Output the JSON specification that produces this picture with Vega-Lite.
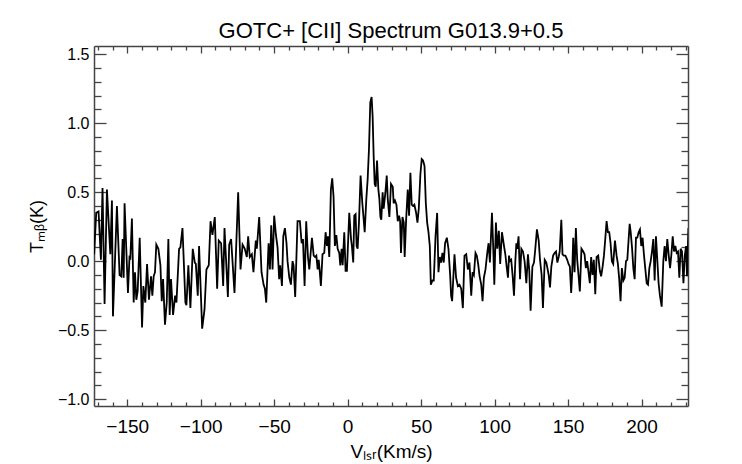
{
  "$schema": "https://vega.github.io/schema/vega-lite/v6.json",
  "width": 594,
  "height": 360,
  "autosize": {"type": "none"},
  "padding": {"left": 94, "top": 46, "right": 54, "bottom": 58},
  "title": {"text": "GOTC+ [CII] Spectrum G013.9+0.5", "fontSize": 22, "fontWeight": "normal", "font": "Liberation Sans", "color": "#000", "baseline": "alphabetic", "offset": 8, "dy": 23},
  "data": {
    "values": [
      {"v": -172.5, "t": 0.05}, {"v": -171.1, "t": 0.35}, {"v": -169.5, "t": 0.36}, {"v": -167.9, "t": 0.01},
      {"v": -166.8, "t": 0.53}, {"v": -165.4, "t": -0.31}, {"v": -163.8, "t": 0.52}, {"v": -161.5, "t": 0.05},
      {"v": -160.4, "t": 0.44}, {"v": -159.7, "t": -0.40}, {"v": -157.0, "t": 0.40}, {"v": -155.2, "t": -0.10},
      {"v": -154.0, "t": -0.11}, {"v": -153.1, "t": 0.16}, {"v": -152.4, "t": -0.12}, {"v": -151.8, "t": 0.42},
      {"v": -149.5, "t": -0.23}, {"v": -148.4, "t": 0.04}, {"v": -147.9, "t": 0.01}, {"v": -146.8, "t": 0.31},
      {"v": -145.6, "t": -0.30}, {"v": -144.7, "t": -0.08}, {"v": -143.8, "t": -0.28}, {"v": -142.9, "t": -0.22},
      {"v": -141.5, "t": 0.17}, {"v": -139.9, "t": -0.48}, {"v": -139.0, "t": -0.18}, {"v": -137.7, "t": -0.30},
      {"v": -136.5, "t": -0.02}, {"v": -135.2, "t": -0.28}, {"v": -133.8, "t": -0.11}, {"v": -132.9, "t": -0.25},
      {"v": -132.0, "t": -0.11}, {"v": -131.1, "t": -0.08}, {"v": -130.2, "t": 0.12}, {"v": -128.8, "t": 0.09},
      {"v": -127.4, "t": -0.03}, {"v": -126.5, "t": -0.29}, {"v": -125.6, "t": -0.13}, {"v": -124.3, "t": -0.46},
      {"v": -123.1, "t": -0.30}, {"v": -122.0, "t": 0.16}, {"v": -121.1, "t": -0.39}, {"v": -120.2, "t": -0.13},
      {"v": -118.8, "t": -0.39}, {"v": -117.4, "t": -0.25}, {"v": -116.5, "t": -0.30}, {"v": -114.7, "t": 0.09},
      {"v": -113.8, "t": 0.10}, {"v": -112.4, "t": 0.24}, {"v": -110.4, "t": -0.30}, {"v": -109.7, "t": -0.32},
      {"v": -108.4, "t": -0.03}, {"v": -107.0, "t": -0.34}, {"v": -105.4, "t": 0.09}, {"v": -104.0, "t": -0.01},
      {"v": -103.3, "t": -0.02}, {"v": -102.0, "t": -0.25}, {"v": -101.1, "t": 0.11}, {"v": -99.0, "t": -0.49},
      {"v": -97.4, "t": -0.35}, {"v": -96.1, "t": -0.06}, {"v": -94.5, "t": -0.03}, {"v": -93.3, "t": 0.29},
      {"v": -92.0, "t": 0.19}, {"v": -90.4, "t": 0.32}, {"v": -88.8, "t": -0.20}, {"v": -87.7, "t": 0.15},
      {"v": -86.1, "t": 0.13}, {"v": -84.7, "t": -0.18}, {"v": -83.8, "t": 0.24}, {"v": -81.5, "t": -0.26},
      {"v": -80.6, "t": 0.12}, {"v": -79.3, "t": 0.16}, {"v": -77.0, "t": -0.23}, {"v": -74.5, "t": 0.50},
      {"v": -72.9, "t": -0.06}, {"v": -71.5, "t": 0.12}, {"v": -70.0, "t": 0.09}, {"v": -68.6, "t": 0.03},
      {"v": -67.7, "t": 0.18}, {"v": -66.6, "t": 0.03}, {"v": -65.2, "t": 0.05}, {"v": -64.1, "t": -0.08},
      {"v": -62.5, "t": 0.15}, {"v": -61.8, "t": 0.09}, {"v": -60.2, "t": 0.32}, {"v": -58.6, "t": -0.08},
      {"v": -57.2, "t": -0.17}, {"v": -56.3, "t": -0.20}, {"v": -55.4, "t": -0.30}, {"v": -53.8, "t": 0.13},
      {"v": -52.9, "t": -0.06}, {"v": -52.0, "t": 0.26}, {"v": -51.1, "t": -0.06}, {"v": -50.0, "t": 0.33},
      {"v": -48.8, "t": 0.19}, {"v": -47.7, "t": 0.10}, {"v": -46.6, "t": -0.13}, {"v": -45.9, "t": -0.03},
      {"v": -44.7, "t": -0.18}, {"v": -43.8, "t": 0.18}, {"v": -42.7, "t": 0.24}, {"v": -41.6, "t": 0.13},
      {"v": -40.9, "t": 0.00}, {"v": -39.7, "t": -0.12}, {"v": -38.6, "t": -0.17}, {"v": -37.5, "t": 0.00},
      {"v": -36.8, "t": -0.03}, {"v": -35.7, "t": -0.26}, {"v": -34.1, "t": 0.29}, {"v": -32.5, "t": 0.29},
      {"v": -31.3, "t": 0.13}, {"v": -30.4, "t": 0.16}, {"v": -29.3, "t": -0.18}, {"v": -28.2, "t": 0.29},
      {"v": -27.0, "t": 0.03}, {"v": -26.1, "t": -0.06}, {"v": -24.3, "t": 0.17}, {"v": -23.1, "t": 0.04},
      {"v": -22.2, "t": 0.03}, {"v": -21.3, "t": 0.04}, {"v": -20.4, "t": -0.06}, {"v": -19.7, "t": 0.01},
      {"v": -19.1, "t": -0.06}, {"v": -18.2, "t": -0.18}, {"v": -17.1, "t": 0.05}, {"v": -15.9, "t": 0.06},
      {"v": -15.0, "t": 0.21}, {"v": -14.1, "t": 0.11}, {"v": -13.4, "t": 0.18}, {"v": -12.5, "t": 0.03},
      {"v": -11.4, "t": 0.52}, {"v": -10.5, "t": 0.60}, {"v": -9.6, "t": 0.47}, {"v": -8.7, "t": 0.11},
      {"v": -7.7, "t": 0.19}, {"v": -6.8, "t": 0.09}, {"v": -5.7, "t": 0.06}, {"v": -5.0, "t": -0.03},
      {"v": -4.1, "t": 0.09}, {"v": -3.4, "t": -0.03}, {"v": -2.3, "t": 0.21}, {"v": -1.4, "t": -0.07},
      {"v": -0.5, "t": -0.07}, {"v": 1.1, "t": 0.35}, {"v": 2.3, "t": 0.16}, {"v": 2.9, "t": 0.11},
      {"v": 3.8, "t": -0.01}, {"v": 4.5, "t": 0.33}, {"v": 5.4, "t": 0.34}, {"v": 6.1, "t": 0.11},
      {"v": 6.8, "t": 0.09}, {"v": 7.7, "t": 0.28}, {"v": 8.8, "t": 0.62}, {"v": 10.0, "t": 0.42},
      {"v": 10.7, "t": 0.33}, {"v": 11.6, "t": 0.21}, {"v": 12.7, "t": 0.45}, {"v": 13.6, "t": 0.59},
      {"v": 14.5, "t": 0.81}, {"v": 15.4, "t": 1.15}, {"v": 16.3, "t": 1.19}, {"v": 17.0, "t": 1.05},
      {"v": 17.7, "t": 0.76}, {"v": 18.4, "t": 0.56}, {"v": 19.1, "t": 0.54}, {"v": 20.0, "t": 0.73},
      {"v": 20.9, "t": 0.52}, {"v": 21.6, "t": 0.45}, {"v": 22.3, "t": 0.32}, {"v": 22.9, "t": 0.30},
      {"v": 23.8, "t": 0.50}, {"v": 24.5, "t": 0.38}, {"v": 25.7, "t": 0.50}, {"v": 26.6, "t": 0.62},
      {"v": 27.3, "t": 0.45}, {"v": 28.4, "t": 0.32}, {"v": 29.5, "t": 0.56}, {"v": 30.7, "t": 0.54},
      {"v": 31.3, "t": 0.42}, {"v": 32.2, "t": 0.44}, {"v": 33.2, "t": 0.41}, {"v": 34.1, "t": 0.29},
      {"v": 35.0, "t": 0.33}, {"v": 35.7, "t": 0.29}, {"v": 36.3, "t": 0.06}, {"v": 37.3, "t": 0.32},
      {"v": 38.2, "t": 0.28}, {"v": 38.8, "t": 0.03}, {"v": 39.8, "t": 0.30}, {"v": 40.9, "t": 0.52},
      {"v": 41.8, "t": 0.33}, {"v": 42.7, "t": 0.64}, {"v": 43.6, "t": 0.41}, {"v": 44.5, "t": 0.40},
      {"v": 45.4, "t": 0.41}, {"v": 46.6, "t": 0.35}, {"v": 47.5, "t": 0.28}, {"v": 48.4, "t": 0.38},
      {"v": 49.5, "t": 0.63}, {"v": 50.4, "t": 0.74}, {"v": 51.3, "t": 0.73}, {"v": 52.3, "t": 0.69},
      {"v": 53.2, "t": 0.42}, {"v": 54.1, "t": 0.28}, {"v": 55.0, "t": 0.21}, {"v": 55.9, "t": 0.11},
      {"v": 56.6, "t": -0.17}, {"v": 57.7, "t": -0.14}, {"v": 58.6, "t": -0.14}, {"v": 59.8, "t": 0.18},
      {"v": 60.9, "t": 0.35}, {"v": 61.8, "t": -0.08}, {"v": 62.7, "t": 0.03}, {"v": 63.6, "t": -0.01},
      {"v": 64.5, "t": 0.06}, {"v": 65.4, "t": -0.01}, {"v": 66.3, "t": 0.13}, {"v": 67.5, "t": 0.17},
      {"v": 68.6, "t": 0.09}, {"v": 69.8, "t": -0.11}, {"v": 70.4, "t": -0.25}, {"v": 71.1, "t": -0.29},
      {"v": 72.7, "t": 0.05}, {"v": 73.8, "t": -0.12}, {"v": 75.0, "t": -0.18}, {"v": 76.1, "t": -0.17},
      {"v": 77.3, "t": -0.20}, {"v": 78.4, "t": -0.34}, {"v": 79.5, "t": 0.04}, {"v": 80.7, "t": 0.05},
      {"v": 81.8, "t": -0.06}, {"v": 82.9, "t": -0.01}, {"v": 84.1, "t": -0.25}, {"v": 85.0, "t": -0.08},
      {"v": 85.9, "t": -0.10}, {"v": 87.0, "t": 0.06}, {"v": 87.9, "t": 0.04}, {"v": 88.8, "t": -0.02},
      {"v": 89.8, "t": -0.11}, {"v": 90.9, "t": -0.17}, {"v": 91.8, "t": -0.29}, {"v": 92.7, "t": -0.12},
      {"v": 93.8, "t": -0.06}, {"v": 95.0, "t": 0.06}, {"v": 95.9, "t": 0.13}, {"v": 96.8, "t": -0.01},
      {"v": 98.2, "t": 0.35}, {"v": 99.1, "t": 0.09}, {"v": 99.8, "t": -0.17}, {"v": 100.9, "t": 0.28},
      {"v": 101.8, "t": 0.09}, {"v": 102.9, "t": 0.22}, {"v": 103.8, "t": -0.02}, {"v": 105.0, "t": 0.21},
      {"v": 106.4, "t": 0.11}, {"v": 107.3, "t": 0.05}, {"v": 108.2, "t": -0.04}, {"v": 109.1, "t": -0.12},
      {"v": 109.8, "t": 0.04}, {"v": 110.4, "t": 0.00}, {"v": 111.3, "t": 0.01}, {"v": 112.3, "t": -0.11},
      {"v": 113.2, "t": -0.25}, {"v": 114.1, "t": 0.00}, {"v": 114.8, "t": 0.13}, {"v": 115.4, "t": 0.09},
      {"v": 116.3, "t": 0.18}, {"v": 117.3, "t": -0.13}, {"v": 118.2, "t": 0.09}, {"v": 119.3, "t": 0.07},
      {"v": 120.4, "t": 0.00}, {"v": 121.6, "t": -0.16}, {"v": 122.7, "t": 0.05}, {"v": 123.6, "t": -0.07},
      {"v": 124.5, "t": -0.36}, {"v": 125.7, "t": -0.04}, {"v": 126.8, "t": -0.01}, {"v": 127.7, "t": 0.09},
      {"v": 128.8, "t": 0.23}, {"v": 130.0, "t": 0.15}, {"v": 130.9, "t": 0.01}, {"v": 132.0, "t": -0.10},
      {"v": 132.9, "t": -0.34}, {"v": 134.1, "t": 0.01}, {"v": 135.2, "t": -0.01}, {"v": 136.1, "t": -0.06},
      {"v": 136.8, "t": -0.10}, {"v": 137.7, "t": -0.19}, {"v": 138.6, "t": -0.04}, {"v": 139.8, "t": 0.04},
      {"v": 140.9, "t": 0.06}, {"v": 141.8, "t": 0.07}, {"v": 142.7, "t": -0.01}, {"v": 143.6, "t": 0.03},
      {"v": 144.3, "t": 0.07}, {"v": 145.4, "t": 0.30}, {"v": 146.2, "t": 0.05}, {"v": 147.1, "t": 0.04},
      {"v": 148.2, "t": 0.04}, {"v": 149.4, "t": 0.01}, {"v": 150.3, "t": -0.02}, {"v": 151.2, "t": -0.04},
      {"v": 152.1, "t": -0.23}, {"v": 152.8, "t": -0.08}, {"v": 153.5, "t": 0.17}, {"v": 154.4, "t": -0.08},
      {"v": 155.3, "t": 0.24}, {"v": 156.2, "t": 0.01}, {"v": 157.1, "t": -0.10}, {"v": 158.0, "t": -0.22},
      {"v": 159.1, "t": 0.09}, {"v": 160.3, "t": 0.07}, {"v": 161.2, "t": 0.05}, {"v": 162.1, "t": -0.05},
      {"v": 163.0, "t": 0.00}, {"v": 163.9, "t": -0.08}, {"v": 164.8, "t": -0.16}, {"v": 165.7, "t": 0.03},
      {"v": 166.6, "t": -0.10}, {"v": 167.5, "t": 0.01}, {"v": 168.5, "t": -0.24}, {"v": 169.4, "t": 0.03},
      {"v": 170.5, "t": 0.04}, {"v": 171.6, "t": -0.07}, {"v": 172.5, "t": -0.11}, {"v": 173.5, "t": -0.04},
      {"v": 174.4, "t": 0.04}, {"v": 175.3, "t": 0.16}, {"v": 176.2, "t": 0.29}, {"v": 177.1, "t": 0.21},
      {"v": 178.0, "t": 0.21}, {"v": 178.9, "t": 0.13}, {"v": 179.8, "t": 0.00}, {"v": 180.7, "t": -0.02},
      {"v": 181.9, "t": 0.15}, {"v": 183.0, "t": 0.04}, {"v": 183.9, "t": -0.02}, {"v": 184.8, "t": -0.13},
      {"v": 185.7, "t": -0.29}, {"v": 186.6, "t": -0.05}, {"v": 187.6, "t": -0.14}, {"v": 188.5, "t": -0.12},
      {"v": 189.4, "t": 0.00}, {"v": 190.3, "t": 0.01}, {"v": 191.2, "t": 0.16}, {"v": 191.9, "t": 0.27},
      {"v": 192.6, "t": 0.21}, {"v": 193.5, "t": 0.10}, {"v": 194.4, "t": -0.05}, {"v": 195.3, "t": -0.13},
      {"v": 196.2, "t": 0.17}, {"v": 197.1, "t": 0.17}, {"v": 198.0, "t": 0.21}, {"v": 198.9, "t": 0.23},
      {"v": 199.8, "t": 0.11}, {"v": 200.7, "t": 0.17}, {"v": 201.6, "t": 0.05}, {"v": 202.5, "t": -0.05},
      {"v": 203.5, "t": -0.16}, {"v": 204.4, "t": -0.17}, {"v": 205.3, "t": -0.05}, {"v": 206.2, "t": 0.00},
      {"v": 207.1, "t": 0.07}, {"v": 208.0, "t": 0.16}, {"v": 208.9, "t": -0.14}, {"v": 209.8, "t": 0.18},
      {"v": 210.7, "t": 0.01}, {"v": 211.6, "t": -0.16}, {"v": 212.5, "t": -0.25}, {"v": 213.7, "t": -0.33},
      {"v": 214.8, "t": 0.00}, {"v": 215.7, "t": 0.11}, {"v": 216.6, "t": 0.00}, {"v": 217.5, "t": 0.16},
      {"v": 218.5, "t": 0.04}, {"v": 219.4, "t": -0.05}, {"v": 220.3, "t": 0.05}, {"v": 221.2, "t": 0.18},
      {"v": 222.1, "t": 0.07}, {"v": 223.0, "t": 0.11}, {"v": 223.9, "t": 0.06}, {"v": 224.8, "t": 0.07},
      {"v": 225.7, "t": -0.12}, {"v": 226.6, "t": 0.09}, {"v": 227.5, "t": 0.07}, {"v": 228.5, "t": -0.16},
      {"v": 229.4, "t": 0.04}, {"v": 230.3, "t": 0.11}, {"v": 230.9, "t": -0.11}, {"v": 231.9, "t": 0.24}
    ]
  },
  "layer": [
    {
      "mark": {"type": "line", "color": "#000", "strokeWidth": 1.8, "clip": true},
      "encoding": {
        "x": {
          "field": "v", "type": "quantitative",
          "scale": {"domain": [-172.6, 231.6], "nice": false, "zero": false},
          "axis": {
            "orient": "bottom",
            "title": "Vₗₛᵣ(Km/s)",
            "values": [-170, -160, -150, -140, -130, -120, -110, -100, -90, -80, -70, -60, -50, -40, -30, -20, -10, 0, 10, 20, 30, 40, 50, 60, 70, 80, 90, 100, 110, 120, 130, 140, 150, 160, 170, 180, 190, 200, 210, 220, 230],
            "format": "d",
            "labelExpr": "datum.value % 50 === 0 ? datum.label : ''",
            "tickSize": {"condition": {"test": "datum.value % 50 === 0", "value": -7}, "value": -4},
            "labelPadding": 18,
            "labelFontSize": 19,
            "titleFontSize": 19,
            "titleBaseline": "alphabetic",
            "titleY": 51
          }
        },
        "y": {
          "field": "t", "type": "quantitative",
          "scale": {"domain": [-1.05, 1.56], "nice": false, "zero": false},
          "axis": {
            "orient": "left",
            "title": "Tₘᵦ(K)",
            "values": [-1.0, -0.9, -0.8, -0.7, -0.6, -0.5, -0.4, -0.3, -0.2, -0.1, 0, 0.1, 0.2, 0.3, 0.4, 0.5, 0.6, 0.7, 0.8, 0.9, 1.0, 1.1, 1.2, 1.3, 1.4, 1.5],
            "labelExpr": "abs(round(datum.value * 10)) % 5 === 0 ? format(datum.value, '.1f') : ''",
            "tickSize": {"condition": {"test": "abs(round(datum.value * 10)) % 5 === 0", "value": -12}, "value": -7},
            "labelPadding": 17,
            "labelFontSize": 16,
            "titleFontSize": 18,
            "titleAngle": -90,
            "titleBaseline": "alphabetic",
            "titleX": -52,
            "titleY": 180
          }
        }
      }
    },
    {
      "mark": {"type": "point", "opacity": 0},
      "encoding": {
        "x": {
          "field": "v", "type": "quantitative",
          "axis": {
            "orient": "top", "title": null, "labels": false,
            "values": [-170, -160, -150, -140, -130, -120, -110, -100, -90, -80, -70, -60, -50, -40, -30, -20, -10, 0, 10, 20, 30, 40, 50, 60, 70, 80, 90, 100, 110, 120, 130, 140, 150, 160, 170, 180, 190, 200, 210, 220, 230],
            "tickSize": {"condition": {"test": "datum.value % 50 === 0", "value": -7}, "value": -4}
          }
        },
        "y": {
          "field": "t", "type": "quantitative",
          "axis": {
            "orient": "right", "title": null, "labels": false,
            "values": [-1.0, -0.9, -0.8, -0.7, -0.6, -0.5, -0.4, -0.3, -0.2, -0.1, 0, 0.1, 0.2, 0.3, 0.4, 0.5, 0.6, 0.7, 0.8, 0.9, 1.0, 1.1, 1.2, 1.3, 1.4, 1.5],
            "tickSize": {"condition": {"test": "abs(round(datum.value * 10)) % 5 === 0", "value": -12}, "value": -7}
          }
        }
      }
    }
  ],
  "resolve": {"axis": {"x": "independent", "y": "independent"}},
  "config": {
    "view": {"stroke": null},
    "font": "Liberation Sans",
    "axis": {
      "grid": false,
      "domainColor": "#444",
      "domainWidth": 1.5,
      "tickColor": "#444",
      "tickWidth": 1.3,
      "labelColor": "#000",
      "titleColor": "#000",
      "titleFontWeight": "normal",
      "labelFont": "Liberation Sans",
      "titleFont": "Liberation Sans",
      "labelFlush": false,
      "labelOverlap": false,
      "labelBound": false
    }
  }
}
